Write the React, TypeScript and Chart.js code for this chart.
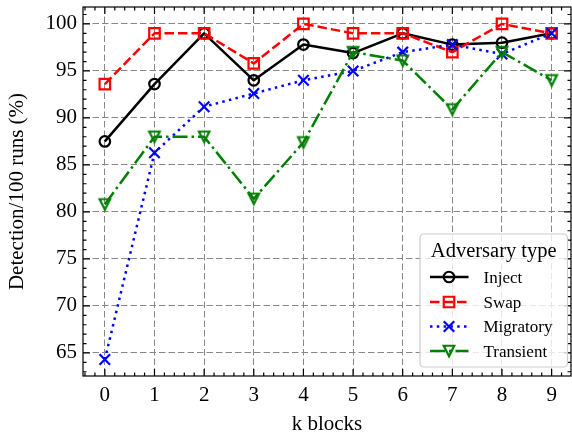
import React, { useEffect, useRef } from 'react';
import { Chart, registerables } from 'chart.js';

Chart.register(...registerables);

// ---- data ----
const kBlocks = [0, 1, 2, 3, 4, 5, 6, 7, 8, 9];
const injectValues = [87.5, 93.6, 99.0, 94.0, 97.8, 96.9, 99.0, 97.8, 98.0, 99.0];
const swapValues = [93.6, 99.0, 99.0, 95.8, 100.0, 99.0, 99.0, 97.0, 100.0, 99.0];
const migratoryValues = [64.3, 86.3, 91.2, 92.6, 94.0, 95.0, 97.0, 97.8, 96.8, 99.0];
const transientValues = [80.8, 88.0, 88.0, 81.4, 87.4, 97.0, 96.1, 90.9, 97.0, 94.0];

const seriesNames = ['Inject', 'Swap', 'Migratory', 'Transient'];
const xTickValues = [0, 1, 2, 3, 4, 5, 6, 7, 8, 9];
const yTickValues = [65, 70, 75, 80, 85, 90, 95, 100];
const xMinorStep = 0.2;
const yMinorStep = 1;

const X_MIN = -0.44;
const X_MAX = 9.39;
const Y_MIN = 62.55;
const Y_MAX = 101.8;

const FONT = "'Liberation Serif', 'Times New Roman', serif";
const LINE_W = 2.5;
const MS = 10.5; // marker size (px)
const MEW = 2.2; // marker edge width

type MarkerKind = 'circle' | 'square' | 'x' | 'tri';

const styles: { color: string; dash: number[]; marker: MarkerKind }[] = [
  { color: '#000000', dash: [], marker: 'circle' },
  { color: '#ff0000', dash: [9.5, 4], marker: 'square' },
  { color: '#0000ff', dash: [2.5, 4.3], marker: 'x' },
  { color: '#008000', dash: [15, 4, 2.5, 4], marker: 'tri' },
];

function markerPath(ctx: CanvasRenderingContext2D, kind: MarkerKind, x: number, y: number) {
  const h = MS / 2;
  ctx.beginPath();
  if (kind === 'circle') {
    ctx.arc(x, y, h, 0, Math.PI * 2);
  } else if (kind === 'square') {
    ctx.rect(x - h, y - h, 2 * h, 2 * h);
  } else if (kind === 'x') {
    ctx.moveTo(x - h, y - h);
    ctx.lineTo(x + h, y + h);
    ctx.moveTo(x + h, y - h);
    ctx.lineTo(x - h, y + h);
  } else {
    ctx.moveTo(x, y + h);
    ctx.lineTo(x - h, y - h);
    ctx.lineTo(x + h, y - h);
    ctx.closePath();
  }
}

function drawMarker(ctx: CanvasRenderingContext2D, kind: MarkerKind, x: number, y: number, color: string) {
  ctx.save();
  ctx.setLineDash([]);
  ctx.strokeStyle = color;
  ctx.lineWidth = MEW;
  ctx.lineJoin = 'miter';
  ctx.lineCap = 'butt';
  markerPath(ctx, kind, x, y);
  ctx.stroke();
  ctx.restore();
}

function makeTriangleImage(color: string) {
  const c = document.createElement('canvas');
  c.width = 16;
  c.height = 16;
  const cx = c.getContext('2d') as CanvasRenderingContext2D;
  drawMarker(cx, 'tri', 8, 8, color);
  return c;
}

const frameAndTicks = {
  id: 'frameAndTicks',
  afterDatasetsDraw(chart: any) {
    const { ctx, chartArea } = chart;
    const { left, right, top, bottom } = chartArea;
    const xs = chart.scales.x;
    const ys = chart.scales.y;
    ctx.save();
    ctx.strokeStyle = '#000';
    ctx.setLineDash([]);
    ctx.lineWidth = 1.2;
    ctx.lineCap = 'butt';
    const majorLen = 7;
    const minorLen = 3.5;
    const vtick = (px: number, len: number) => {
      ctx.beginPath();
      ctx.moveTo(px, bottom);
      ctx.lineTo(px, bottom - len);
      ctx.moveTo(px, top);
      ctx.lineTo(px, top + len);
      ctx.stroke();
    };
    const htick = (py: number, len: number) => {
      ctx.beginPath();
      ctx.moveTo(left, py);
      ctx.lineTo(left + len, py);
      ctx.moveTo(right, py);
      ctx.lineTo(right - len, py);
      ctx.stroke();
    };
    const xStart = Math.ceil(X_MIN / xMinorStep);
    const xEnd = Math.floor(X_MAX / xMinorStep);
    for (let i = xStart; i <= xEnd; i++) {
      if (i % 5 === 0) continue;
      vtick(xs.getPixelForValue(i * xMinorStep), minorLen);
    }
    xTickValues.forEach((v) => vtick(xs.getPixelForValue(v), majorLen));
    const yStart = Math.ceil(Y_MIN / yMinorStep);
    const yEnd = Math.floor(Y_MAX / yMinorStep);
    for (let i = yStart; i <= yEnd; i++) {
      if (i % 5 === 0) continue;
      htick(ys.getPixelForValue(i * yMinorStep), minorLen);
    }
    yTickValues.forEach((v) => htick(ys.getPixelForValue(v), majorLen));
    ctx.strokeRect(left, top, right - left, bottom - top);
    ctx.restore();
  },
};

const mplLegend = {
  id: 'mplLegend',
  afterDraw(chart: any) {
    const { ctx, chartArea } = chart;
    const bw = 147.5;
    const bh = 133;
    const bx = chartArea.right - 3.5 - bw;
    const by = chartArea.bottom - 9 - bh;
    const r = 4;
    ctx.save();
    ctx.beginPath();
    ctx.moveTo(bx + r, by);
    ctx.lineTo(bx + bw - r, by);
    ctx.arcTo(bx + bw, by, bx + bw, by + r, r);
    ctx.lineTo(bx + bw, by + bh - r);
    ctx.arcTo(bx + bw, by + bh, bx + bw - r, by + bh, r);
    ctx.lineTo(bx + r, by + bh);
    ctx.arcTo(bx, by + bh, bx, by + bh - r, r);
    ctx.lineTo(bx, by + r);
    ctx.arcTo(bx, by, bx + r, by, r);
    ctx.closePath();
    ctx.fillStyle = 'rgba(255,255,255,0.8)';
    ctx.fill();
    ctx.strokeStyle = '#cccccc';
    ctx.lineWidth = 1.2;
    ctx.stroke();

    ctx.fillStyle = '#000';
    ctx.font = `20.5px ${FONT}`;
    ctx.textAlign = 'center';
    ctx.textBaseline = 'alphabetic';
    ctx.fillText('Adversary type', bx + bw / 2, by + 22.5);

    const rows = [43, 68, 92.5, 117];
    chart.data.datasets.forEach((ds: any, i: number) => {
      const st = styles[i];
      const y = by + rows[i];
      ctx.save();
      ctx.strokeStyle = st.color;
      ctx.lineWidth = LINE_W;
      ctx.lineCap = 'butt';
      ctx.setLineDash(st.dash);
      ctx.beginPath();
      ctx.moveTo(bx + 10, y);
      ctx.lineTo(bx + 48.5, y);
      ctx.stroke();
      ctx.restore();
      drawMarker(ctx, st.marker, bx + 29, y, st.color);
      ctx.fillStyle = '#000';
      ctx.font = `17px ${FONT}`;
      ctx.textAlign = 'left';
      ctx.textBaseline = 'alphabetic';
      ctx.fillText(ds.label, bx + 63.5, y + 5.5);
    });
    ctx.restore();
  },
};

export default function App() {
  const ref = useRef<HTMLCanvasElement | null>(null);

  useEffect(() => {
    if (!ref.current) return;
    const allValues = [injectValues, swapValues, migratoryValues, transientValues];
    const pointStyles: any[] = ['circle', 'rect', 'crossRot', makeTriangleImage(styles[3].color)];
    const pointRadii = [MS / 2, (MS / 2) / Math.SQRT1_2, (MS / 2) / Math.SQRT1_2, 8];
    const datasets = allValues.map((vals, i) => ({
      label: seriesNames[i],
      data: kBlocks.map((k, j) => ({ x: k, y: vals[j] })),
      borderColor: styles[i].color,
      backgroundColor: 'rgba(0,0,0,0)',
      borderWidth: LINE_W,
      borderDash: styles[i].dash,
      borderCapStyle: 'butt',
      borderJoinStyle: 'round',
      pointStyle: pointStyles[i],
      pointRadius: pointRadii[i],
      pointHoverRadius: pointRadii[i],
      pointBorderWidth: MEW,
      pointBorderColor: styles[i].color,
      pointBackgroundColor: 'rgba(0,0,0,0)',
      tension: 0,
      fill: false,
      order: 4 - i,
    }));

    const tickFont = { family: FONT, size: 21 };
    const chart = new Chart(ref.current, {
      type: 'line',
      data: { datasets } as any,
      options: {
        animation: false,
        responsive: false,
        devicePixelRatio: 1,
        events: [],
        layout: { autoPadding: false, padding: { top: 7, right: 1, left: 0, bottom: 0 } },
        plugins: {
          legend: { display: false },
          tooltip: { enabled: false },
        },
        scales: {
          x: {
            type: 'linear',
            min: X_MIN,
            max: X_MAX,
            afterBuildTicks: (s: any) => {
              s.ticks = xTickValues.map((v) => ({ value: v }));
            },
            afterFit: (s: any) => {
              s.height = 62;
              s.paddingLeft = 0;
              s.paddingRight = 0;
              s.paddingTop = 0;
              s.paddingBottom = 0;
            },
            grid: { color: '#888888', lineWidth: 1, drawTicks: false },
            border: { display: false, dash: [6.5, 3] },
            ticks: {
              color: '#000',
              font: tickFont,
              padding: 7,
              autoSkip: false,
              maxRotation: 0,
              minRotation: 0,
              callback: (v: any) => String(v),
            },
            title: {
              display: true,
              text: 'k blocks',
              color: '#000',
              font: { family: FONT, size: 21 },
              padding: { top: 0, bottom: 1 },
            },
          },
          y: {
            type: 'linear',
            min: Y_MIN,
            max: Y_MAX,
            afterBuildTicks: (s: any) => {
              s.ticks = yTickValues.map((v) => ({ value: v }));
            },
            afterFit: (s: any) => {
              s.width = 83;
              s.paddingLeft = 0;
              s.paddingRight = 0;
              s.paddingTop = 0;
              s.paddingBottom = 0;
            },
            grid: { color: '#888888', lineWidth: 1, drawTicks: false },
            border: { display: false, dash: [6.5, 3] },
            ticks: {
              color: '#000',
              font: tickFont,
              padding: 6,
              callback: (v: any) => String(v),
            },
            title: {
              display: true,
              text: 'Detection/100 runs (%)',
              color: '#000',
              font: { family: FONT, size: 21 },
              padding: { top: 5, bottom: 0 },
            },
          },
        },
      } as any,
      plugins: [frameAndTicks, mplLegend],
    });
    return () => chart.destroy();
  }, []);

  return (
    <div style={{ position: 'absolute', left: 0, top: 0, width: 572, height: 438, background: '#fff' }}>
      <canvas ref={ref} width={572} height={438} style={{ display: 'block' }} />
    </div>
  );
}
